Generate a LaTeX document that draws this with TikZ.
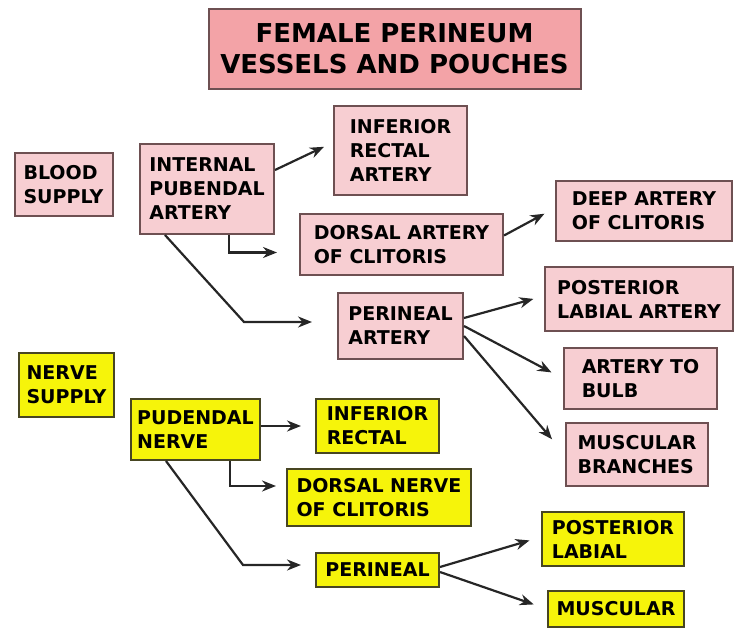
\documentclass[tikz,border=0pt]{standalone}
\usepackage{fontspec}
\setmainfont{DejaVu Sans}
\usetikzlibrary{arrows.meta}
\definecolor{titlepink}{RGB}{243,163,167}
\definecolor{lightpink}{RGB}{247,206,210}
\definecolor{pinkline}{RGB}{110,80,82}
\definecolor{nerveyellow}{RGB}{246,244,10}
\definecolor{yellowline}{RGB}{72,70,34}
\begin{document}
\begin{tikzpicture}[x=1pt, y=-1pt,
    box/.style={rectangle, draw, line width=2pt, align=left, inner sep=0pt,
      font=\bfseries\fontsize{19}{24}\selectfont},
    pinkbox/.style={box, draw=pinkline, fill=lightpink},
    yellowbox/.style={box, draw=yellowline, fill=nerveyellow},
    titlebox/.style={box, draw=pinkline, fill=titlepink, align=center,
      font=\bfseries\fontsize{26}{31}\selectfont},
    arr/.style={-{Stealth[length=14pt,width=11pt]}, line width=2.2pt, black!85}]
    \useasboundingbox (0,0) rectangle (735,628);
    \node[titlebox, minimum width=372pt, minimum height=80pt] (title) at (394.5,49) {FEMALE PERINEUM\\VESSELS AND POUCHES};

    \node[pinkbox, minimum width=98pt, minimum height=63pt] (blood) at (63.5,184.5) {BLOOD\\SUPPLY};
    \node[pinkbox, minimum width=134pt, minimum height=90pt] (ipa) at (207,189) {INTERNAL\\PUBENDAL\\ARTERY};
    \node[pinkbox, minimum width=133pt, minimum height=89pt] (irA) at (400.5,150.5) {INFERIOR\\RECTAL\\ARTERY};
    \node[pinkbox, minimum width=203pt, minimum height=61pt] (dorsA) at (401.5,244.5) {DORSAL ARTERY\\OF CLITORIS};
    \node[pinkbox, minimum width=176pt, minimum height=60pt] (deepA) at (644,211) {DEEP ARTERY\\OF CLITORIS};
    \node[pinkbox, minimum width=125pt, minimum height=66pt] (perA) at (400.5,326) {PERINEAL\\ARTERY};
    \node[pinkbox, minimum width=188pt, minimum height=64pt] (postA) at (639,299) {POSTERIOR\\LABIAL ARTERY};
    \node[pinkbox, minimum width=153pt, minimum height=61pt] (bulb) at (640.5,378.5) {ARTERY TO\\BULB};
    \node[pinkbox, minimum width=142pt, minimum height=63pt] (muscA) at (637,454.5) {MUSCULAR\\BRANCHES};

    \node[yellowbox, minimum width=95pt, minimum height=64pt] (nerve) at (66.5,385) {NERVE\\SUPPLY};
    \node[yellowbox, minimum width=129pt, minimum height=61pt] (pud) at (195.5,429.5) {PUDENDAL\\NERVE};
    \node[yellowbox, minimum width=123pt, minimum height=54pt] (irN) at (377.5,426) {INFERIOR\\RECTAL};
    \node[yellowbox, minimum width=184pt, minimum height=57pt] (dorsN) at (379,497.5) {DORSAL NERVE\\OF CLITORIS};
    \node[yellowbox, minimum width=123pt, minimum height=34pt] (perN) at (377.5,570) {PERINEAL};
    \node[yellowbox, minimum width=142pt, minimum height=54pt] (postN) at (613,539) {POSTERIOR\\LABIAL};
    \node[yellowbox, minimum width=136pt, minimum height=36pt] (muscN) at (616,609) {MUSCULAR};

    \draw[arr, shorten >=10pt] ([yshift=19pt]ipa.east) -- ([yshift=8pt]irA.west);
    \draw[arr, shorten >=22pt] ([xshift=22pt]ipa.south) |- ([yshift=-8pt]dorsA.west);
    \draw[arr, shorten >=25pt] ([xshift=-42pt]ipa.south) -- ([xshift=-93pt,yshift=4pt]perA.west) -- ([yshift=4pt]perA.west);
    \draw[arr, shorten >=12pt] ([yshift=9pt]dorsA.east) -- ([yshift=3pt]deepA.west);
    \draw[arr, shorten >=11pt] ([yshift=8pt]perA.east) -- ([yshift=3pt]postA.west);
    \draw[arr, shorten >=13pt] (perA.east) -- (bulb.west);
    \draw[arr, shorten >=20pt] ([yshift=-10pt]perA.east) -- (muscA.west);

    \draw[arr, shorten >=14pt] (pud.east |- irN.west) -- (irN.west);
    \draw[arr, shorten >=10pt] ([xshift=34.5pt]pud.south) |- ([yshift=11.5pt]dorsN.west);
    \draw[arr, shorten >=14pt] ([xshift=-29.5pt]pud.south) -- ([xshift=-72pt,yshift=5pt]perN.west) -- ([yshift=5pt]perN.west);
    \draw[arr, shorten >=12pt] ([yshift=3pt]perN.east) -- ([yshift=2pt]postN.west);
    \draw[arr, shorten >=14pt] ([yshift=-2pt]perN.east) -- (muscN.west);
\end{tikzpicture}
\end{document}
